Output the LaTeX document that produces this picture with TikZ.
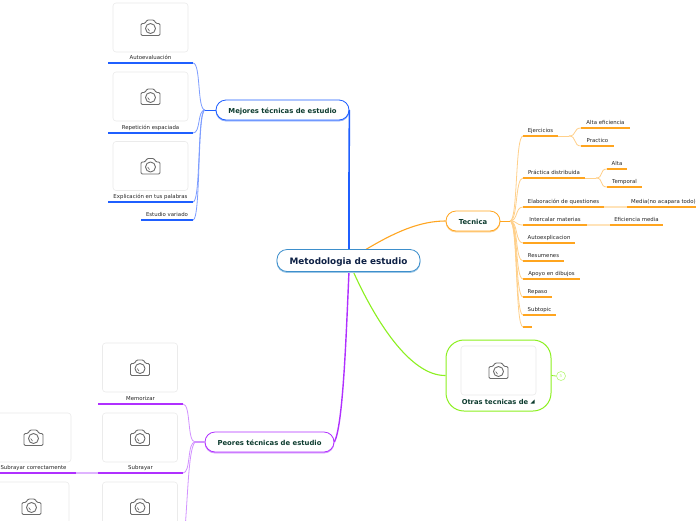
\documentclass[tikz,border=0pt]{standalone}
\usepackage{fontspec}
\setmainfont{DejaVu Sans}
\usetikzlibrary{positioning,shadows}

\definecolor{blueline}{HTML}{1F5FFF}
\definecolor{bluelink}{HTML}{7D9DFF}
\definecolor{orangeline}{HTML}{FFA51F}
\definecolor{orangelink}{HTML}{FFD08A}
\definecolor{purpleline}{HTML}{B030FF}
\definecolor{purplelink}{HTML}{D292FF}
\definecolor{greenline}{HTML}{8CF020}
\definecolor{greenlink}{HTML}{B8F878}
\definecolor{rootline}{HTML}{3D8FCC}
\definecolor{roottext}{HTML}{0D2044}
\definecolor{topictext}{HTML}{0C3B2E}

\tikzset{
  rootbox/.style={draw=#1,fill=white,rounded corners=10pt,line width=.8pt,
    minimum height=20pt,inner sep=0pt,text=topictext,text height=6.8pt,text depth=0pt,
    font=\bfseries\fontsize{6.85}{8}\selectfont,
    copy shadow={shadow xshift=0pt,shadow yshift=-1pt,draw=#1!50,fill=#1!50}},
  rulenode/.style={fill=#1,minimum height=1.3pt,inner sep=0pt,outer sep=0pt},
  leaf/.style={inner sep=0pt,text height=4.2pt,text depth=1.1pt,text=black!85,
    font=\fontsize{5.4}{6}\selectfont},
  imagebox/.style={draw=black!8,fill=white,rounded corners=3pt,line width=.6pt,
    minimum width=75pt,minimum height=49pt,inner sep=0pt},
  branch/.style={draw=#1,line width=.8pt,out=0,in=180,distance=8pt},
  camera/.pic={
    \draw[black!58,line width=.9pt,rounded corners=1.2pt]
      (-9.5,-4) -- (-5.5,-4) -- (-3.5,-7.5) -- (3.5,-7.5) -- (5.5,-4) -- (9.5,-4)
      -- (9.5,8) -- (-9.5,8) -- cycle;
    \draw[black!58,line width=.9pt] (0,1) circle (5pt);
    \draw[black!58,line width=.6pt] (-2.8,1) arc (180:250:2.8pt);
  }
}

\begin{document}
\begin{tikzpicture}[x=1pt,y=-1pt]
    \clip (0,0) rectangle (696,520);
    \fill[white] (0,0) rectangle (696,520);

    % Forks
    \coordinate (forkM) at (205,110);
    \coordinate (forkT) at (510,221);
    \coordinate (forkP) at (195,442);
    \coordinate (forkE) at (569,136);
    \coordinate (forkC) at (596,178);
    \coordinate (lowP) at (184,540);

    % Main boxes
    \node[rootbox=blueline,minimum width=133pt] (mejores) at (282.5,110) {Mejores técnicas de estudio};
    \node[rootbox=orangeline,minimum width=54pt] (tecnica) at (473,221) {Tecnica};
    \node[rootbox=purpleline,minimum width=129pt] (peores) at (269.5,442) {Peores técnicas de estudio};
    \node[draw=greenline,fill=white,rounded corners=18pt,line width=1pt,minimum width=105pt,
      minimum height=71pt,inner sep=0pt] (otras) at (498.5,375.5) {};

    % Trunks from the root
    \coordinate (rootA) at (349,250);
    \coordinate (rootB) at (365,250);
    \coordinate (rootC) at (349,271);
    \coordinate (rootD) at (353,271);
    \draw[blueline,line width=1.6pt] (rootA) -- (349,180) -- (mejores.east);
    \draw[orangeline,line width=1.1pt] (rootB) .. controls (395,232) and (420,221) .. (tecnica.west);
    \draw[purpleline,line width=1.4pt] (rootC) .. controls (346,340) and (343,425) .. (peores.east);
    \draw[greenline,line width=1.1pt] (rootD) .. controls (375,320) and (410,376) .. (otras.west);

    % Leaves: name/left/right/y/text
    \foreach \nm/\xa/\xb/\yy/\txt in {
      auto/108/193/63/Autoevaluación,
      repe/108/193/133/Repetición espaciada,
      expl/108/193/202/Explicación en tus palabras,
      vari/141/193/220/Estudio variado}{
      \node[rulenode=blueline,minimum width={(\xb-\xa)*1pt}] (\nm) at ({(\xa+\xb)/2},\yy) {};
      \node[leaf,above=1.6pt of \nm] (\nm-t) {\txt};
      \draw[bluelink,line width=.8pt,out=180,in=0,distance=8pt] (forkM) to (\nm.east);
    }
    \foreach \nm/\xa/\xb/\yy/\txt in {
      ejer/523/558/136/Ejercicios,
      prac/523/585/178/Práctica distribuida,
      elab/523/604/207/Elaboración de questiones,
      inte/523/587/225/Intercalar materias,
      expc/523/575/243/Autoexplicacion,
      resu/523/564/261/Resumenes,
      apoy/523/580/279/Apoyo en dibujos,
      repa/523/552/297/Repaso,
      subt/523/556/315/Subtopic}{
      \node[rulenode=orangeline,minimum width={(\xb-\xa)*1pt}] (\nm) at ({(\xa+\xb)/2},\yy) {};
      \node[leaf,above=1.6pt of \nm] (\nm-t) {\txt};
      \draw[branch=orangelink] (forkT) to (\nm.west);
    }
    \node[rulenode=orangeline,minimum width=9pt] (vacio) at (527.5,327) {};
    \draw[branch=orangelink] (forkT) to (vacio.west);

    % Second level on the right
    \foreach \nm/\xa/\xb/\yy/\txt/\src in {
      alef/581/630/128/Alta eficiencia/forkE,
      prtc/581/614/146/Practico/forkE,
      alta/607/627/169/Alta/forkC,
      temp/607/642/187/Temporal/forkC}{
      \node[rulenode=orangeline,minimum width={(\xb-\xa)*1pt}] (\nm) at ({(\xa+\xb)/2},\yy) {};
      \node[leaf,above=1.6pt of \nm] (\nm-t) {\txt};
      \draw[branch=orangelink] (\src) to (\nm.west);
    }
    \foreach \nm/\xa/\xb/\yy/\txt/\src in {
      medi/627/700/207/Media(no acapara todo)/elab,
      efic/610/663/225/Eficiencia media/inte}{
      \node[rulenode=orangeline,minimum width={(\xb-\xa)*1pt}] (\nm) at ({(\xa+\xb)/2},\yy) {};
      \node[leaf,above=1.6pt of \nm] (\nm-t) {\txt};
      \draw[orangelink!60,line width=1.3pt] (\src.east) -- (\nm.west);
    }
    \foreach \nm/\xa/\xb/\yy/\txt in {
      memo/98/183/404/Memorizar,
      suby/98/183/473/Subrayar}{
      \node[rulenode=purpleline,minimum width={(\xb-\xa)*1pt}] (\nm) at ({(\xa+\xb)/2},\yy) {};
      \node[leaf,above=1.6pt of \nm] (\nm-t) {\txt};
      \draw[purplelink,line width=.8pt,out=180,in=0,distance=8pt] (forkP) to (\nm.east);
    }
    \node[rulenode=purpleline,minimum width=85pt] (subc) at (33.5,473) {};
    \node[leaf,above=1.6pt of subc] (subc-t) {Subrayar correctamente};
    \draw[purplelink!70,line width=1.2pt] (suby.west) -- (subc.east);

    \draw[orangelink,line width=.8pt] (ejer.east) -- (forkE);
    \draw[orangelink,line width=.8pt] (prac.east) -- (forkC);
    \draw[blueline,line width=1pt] (mejores.west) -- (forkM);
    \draw[orangeline,line width=1pt] (tecnica.east) -- (forkT);
    \draw[purplelink,line width=1.2pt] (peores.west) -- (forkP);
    \draw[purplelink,line width=.8pt] (forkP) .. controls (188,450) and (188,500) .. (lowP);

    % Pictures
    \foreach \nm/\xx/\yy in {
      imgA/150.5/27.5, imgB/150.5/96.5, imgC/150.5/166,
      imgD/140/367.5, imgE/140/437.5, imgF/140/506.5,
      imgG/33.5/437.5, imgH/31.5/506.5, imgI/498.5/370.5}{
      \node[imagebox] (\nm) at (\xx,\yy) {};
      \pic at (\nm) {camera};
    }

    % Root
    \node[rootbox=rootline,minimum width=143pt,minimum height=22pt,text height=7.6pt,
      font=\bfseries\fontsize{8.85}{10}\selectfont,text=roottext] (root) at (348.5,260.5) {Metodologia de estudio};

    % Otras tecnicas
    \node[font=\bfseries\fontsize{6.75}{8}\selectfont,text=topictext,inner sep=0pt] (otras-t) at (495,402) {Otras tecnicas de};
    \coordinate (triA) at (534.5,399.5);
    \coordinate (triB) at (534.5,403.5);
    \coordinate (triC) at (530.5,403.5);
    \fill[topictext] (triA) -- (triB) -- (triC) -- cycle;
    \node[draw=greenlink,circle,fill=white,minimum size=9pt,inner sep=0pt,line width=.6pt,
      text=greenlink,font=\fontsize{4}{5}\selectfont] (mas) at (561,376) {5};
    \draw[greenline,line width=.8pt] (otras.east) -- (mas.west);
\end{tikzpicture}
\end{document}
